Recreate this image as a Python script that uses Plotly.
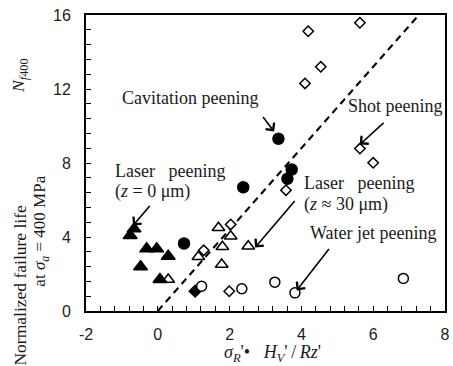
import plotly.graph_objects as go

# ---- data ----
laser0_x = [-0.77, -0.66, -0.31, -0.03, 0.29, -0.48, 0.06]
laser0_y = [4.08, 4.44, 3.36, 3.36, 2.96, 2.39, 1.70]

laser30_x = [0.29, 1.13, 1.69, 2.03, 1.80, 2.52, 1.78]
laser30_y = [1.70, 2.93, 4.50, 4.04, 3.47, 3.50, 2.51]

cav_x = [0.73, 2.38, 3.36, 3.73, 3.61]
cav_y = [3.65, 6.69, 9.31, 7.65, 7.15]

wj_x = [1.22, 2.34, 3.26, 3.82, 6.84]
wj_y = [1.34, 1.20, 1.56, 0.98, 1.76]

shot_x = [1.28, 2.03, 3.57, 1.99, 4.19, 5.63, 4.54, 4.10, 5.63, 6.00]
shot_y = [3.28, 4.68, 6.53, 1.07, 15.12, 15.58, 13.20, 12.30, 8.78, 8.01]

solid_dia_x = [1.04]
solid_dia_y = [1.07]

fit_x = [0.0, 7.27]
fit_y = [0.0, 16.0]

x_ticks = [-2, 0, 2, 4, 6, 8]
y_ticks = [0, 4, 8, 12, 16]

SERIF = "Liberation Serif, Times New Roman, serif"
SANS = "Liberation Sans, Arial, sans-serif"
TXT = "#1a1a1a"

fig = go.Figure()

fig.add_trace(go.Scatter(x=fit_x, y=fit_y, mode="lines",
                         line=dict(color="black", width=2, dash="7px,5px"),
                         hoverinfo="skip"))

def mk(x, y, symbol, size, fill):
    fig.add_trace(go.Scatter(x=x, y=y, mode="markers",
                             marker=dict(symbol=symbol, size=size, color=fill,
                                         line=dict(color="black", width=1.5))))

mk(shot_x, shot_y, "diamond", 8, "white")
mk(laser30_x, laser30_y, "triangle-up", 11, "white")
mk(solid_dia_x, solid_dia_y, "diamond", 9, "black")
mk(wj_x, wj_y, "circle", 10, "white")
mk(laser0_x, laser0_y, "triangle-up", 12, "black")
mk(cav_x, cav_y, "circle", 11, "black")

# plot area in pixels
L, R, T, B = 86, 445, 15, 311.5
W, H = 453, 366

def px(xp):
    return (xp - L) / (R - L)

def py(yp):
    return (B - yp) / (B - T)

ann = []

def text(x, y, s, xanchor="center", size=18):
    ann.append(dict(x=x, y=y, xref="x", yref="y", text=s, showarrow=False,
                    xanchor=xanchor, yanchor="middle",
                    font=dict(family=SERIF, size=size, color=TXT)))

text(0.90, 11.54, "Cavitation peening")
text(6.61, 11.07, "Shot peening")
text(-1.25, 7.56, "Laser\u00a0\u00a0\u00a0peening", xanchor="left")
text(-1.25, 6.48, "(<i>z</i> = 0 \u03bcm)", xanchor="left")
text(4.01, 6.93, "Laser\u00a0\u00a0\u00a0peening", xanchor="left")
text(4.01, 5.76, "(<i>z</i> \u2248 30 \u03bcm)", xanchor="left")
text(6.00, 4.23, "Water jet peening")

def arrow(x0, y0, x1, y1):
    ann.append(dict(x=x1, y=y1, ax=x0, ay=y0, xref="x", yref="y",
                    axref="x", ayref="y", text="", showarrow=True,
                    arrowhead=4, arrowsize=1.3, arrowwidth=1.6,
                    arrowcolor="black", standoff=0, startstandoff=0))

arrow(2.90, 10.57, 3.24, 9.70)
arrow(6.33, 10.24, 5.63, 9.00)
arrow(-0.19, 5.76, -0.69, 4.62)
arrow(3.85, 6.03, 2.71, 3.43)
arrow(4.80, 3.43, 3.87, 1.11)

def rot(xp, yp, s, size=17):
    ann.append(dict(x=px(xp), y=py(yp), xref="paper", yref="paper", text=s,
                    textangle=-90, showarrow=False, xanchor="center", yanchor="middle",
                    font=dict(family=SERIF, size=size, color=TXT)))

# y-axis title (rotated lines)
rot(20, 286, "Normalized failure life", size=17.5)
rot(20, 76, "<i>N</i><sub><i>f</i>400</sub>", size=17.5)
rot(41, 232, "at <i>\u03c3<sub>a</sub></i> = 400 MPa")

# x-axis title
ann.append(dict(x=px(272), y=py(354), xref="paper", yref="paper",
                text="<i>\u03c3<sub>R</sub></i>'\u2022\u00a0\u00a0\u00a0<i>H<sub>V</sub></i>'\u2009/\u2009<i>Rz</i>'",
                showarrow=False, xanchor="center", yanchor="middle",
                font=dict(family=SERIF, size=18, color=TXT)))

fig.update_layout(
    template="none",
    width=W, height=H,
    margin=dict(l=L, r=W - R, t=T, b=H - B, autoexpand=False),
    paper_bgcolor="white", plot_bgcolor="white",
    showlegend=False,
    annotations=ann,
)

fig.update_xaxes(range=[-2, 8], tickvals=x_ticks, ticktext=[str(v) for v in x_ticks],
                 automargin=False, showgrid=False, zeroline=False,
                 showline=True, linecolor="black", linewidth=2, mirror=True,
                 ticks="inside", ticklen=5, tickwidth=1.2, tickcolor="black",
                 minor=dict(dtick=0.4, ticks="inside", ticklen=5, tickwidth=1.2,
                            tickcolor="black", showgrid=False),
                 tickfont=dict(family=SANS, size=16, color="#222"),
                 ticklabelstandoff=8, ticklabeloverflow="allow")
fig.update_yaxes(range=[0, 16], tickvals=y_ticks, ticktext=[str(v) for v in y_ticks],
                 automargin=False, showgrid=False, zeroline=False,
                 showline=True, linecolor="black", linewidth=2, mirror=True,
                 ticks="inside", ticklen=5, tickwidth=1.2, tickcolor="black",
                 minor=dict(dtick=0.8, ticks="inside", ticklen=5, tickwidth=1.2,
                            tickcolor="black", showgrid=False),
                 tickfont=dict(family=SANS, size=16, color="#222"),
                 ticklabelstandoff=10, ticklabeloverflow="allow")

fig.write_html("out.html", config={"displayModeBar": False},
               post_script="document.body.style.margin='0';document.body.style.padding='0';")
